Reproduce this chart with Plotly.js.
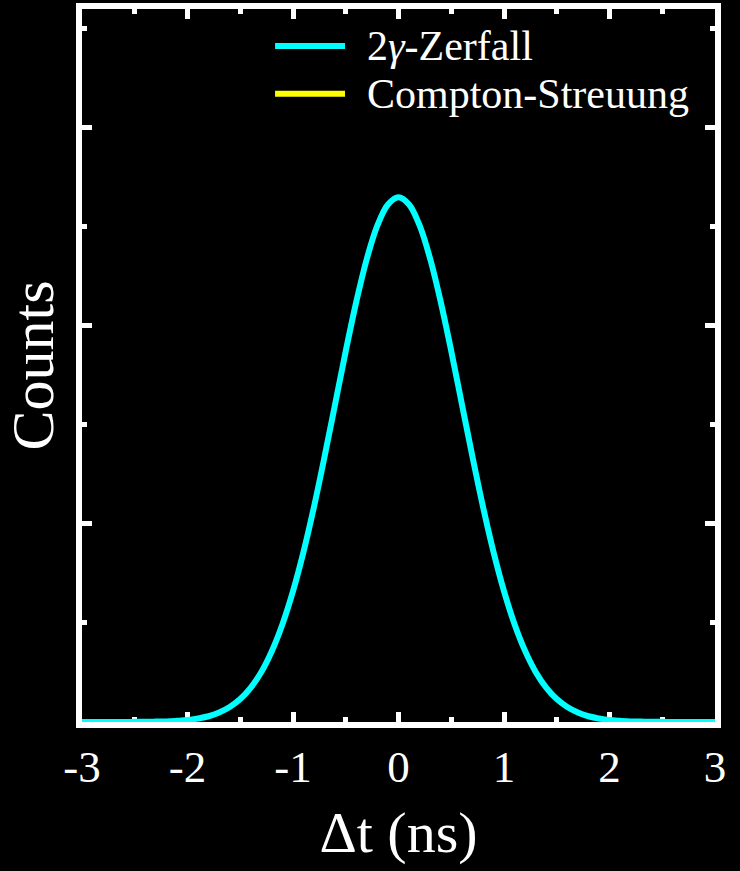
<!DOCTYPE html>
<html>
<head>
<meta charset="utf-8">
<script src="https://cdn.plot.ly/plotly-3.0.1.min.js"></script>
<style>
  html, body { margin: 0; padding: 0; background: #000; }
  #chart { width: 740px; height: 871px; }
</style>
</head>
<body>
<div id="chart"></div>
<script>
// Δt (ns) sample positions
const dt = [
  -3.0, -2.9, -2.8, -2.7, -2.6, -2.5, -2.4, -2.3, -2.2, -2.1,
  -2.0, -1.9, -1.8, -1.7, -1.6, -1.5, -1.4, -1.3, -1.2, -1.1,
  -1.0, -0.9, -0.8, -0.7, -0.6, -0.5, -0.4, -0.3, -0.2, -0.1,
   0.0,  0.1,  0.2,  0.3,  0.4,  0.5,  0.6,  0.7,  0.8,  0.9,
   1.0,  1.1,  1.2,  1.3,  1.4,  1.5,  1.6,  1.7,  1.8,  1.9,
   2.0,  2.1,  2.2,  2.3,  2.4,  2.5,  2.6,  2.7,  2.8,  2.9, 3.0
];
// 2γ-Zerfall counts (arbitrary units)
const zerfallCounts = [
  0.000, 0.000, 0.000, 0.000, 0.000, 0.001, 0.001, 0.002, 0.003, 0.006,
  0.010, 0.018, 0.029, 0.048, 0.076, 0.116, 0.174, 0.253, 0.359, 0.494,
  0.661, 0.860, 1.089, 1.342, 1.607, 1.873, 2.122, 2.339, 2.507, 2.613,
  2.650, 2.613, 2.507, 2.339, 2.122, 1.873, 1.607, 1.342, 1.089, 0.860,
  0.661, 0.494, 0.359, 0.253, 0.174, 0.116, 0.076, 0.048, 0.029, 0.018,
  0.010, 0.006, 0.003, 0.002, 0.001, 0.001, 0.000, 0.000, 0.000, 0.000, 0.000
];
// Compton-Streuung: no visible curve in the picture (legend entry only)
const comptonDt = [];
const comptonCounts = [];

const xTickVals = [-3, -2, -1, 0, 1, 2, 3];
const xTickLabels = ['-3', '-2', '-1', '0', '1', '2', '3'];
const seriesNames = ['2<i>γ</i>-Zerfall', 'Compton-Streuung'];
const seriesColors = ['#00FFFF', '#FFFF00'];

const FONT = 'Liberation Serif';

const traces = [
  {
    x: comptonDt, y: comptonCounts, type: 'scatter', mode: 'lines',
    name: seriesNames[1], line: { color: seriesColors[1], width: 6 },
    showlegend: false, hoverinfo: 'skip'
  },
  {
    x: dt, y: zerfallCounts, type: 'scatter', mode: 'lines',
    name: seriesNames[0], line: { color: seriesColors[0], width: 6, shape: 'spline', smoothing: 1 },
    showlegend: false, cliponaxis: false, hoverinfo: 'skip'
  }
];

const legX0 = 0.305, legX1 = 0.4155, legTextX = 0.447;
const legY = [0.948, 0.881];

const layout = {
  width: 740, height: 871,
  paper_bgcolor: '#000', plot_bgcolor: '#000',
  margin: { l: 82, r: 25, t: 9, b: 149 },
  showlegend: false,
  font: { family: FONT, color: '#fff' },
  xaxis: {
    range: [-3, 3],
    tickmode: 'array', tickvals: xTickVals, ticktext: xTickLabels,
    ticks: 'inside', ticklen: 10, tickwidth: 5, tickcolor: '#fff',
    minor: { dtick: 0.5, tick0: 0, ticks: 'inside', ticklen: 5, tickwidth: 5, tickcolor: '#fff', showgrid: false },
    showline: true, linecolor: '#fff', linewidth: 6, mirror: 'ticks',
    showgrid: false, zeroline: false,
    tickfont: { family: FONT, size: 45, color: '#fff' },
    ticklabelstandoff: 0,
    layer: 'below traces',
    title: { text: 'Δt (ns)', font: { family: FONT, size: 58, color: '#fff' }, standoff: 22 }
  },
  yaxis: {
    range: [0, 3.6],
    dtick: 1, tick0: 0,
    ticks: 'inside', ticklen: 10, tickwidth: 5, tickcolor: '#fff',
    minor: { dtick: 0.5, tick0: 0, ticks: 'inside', ticklen: 5, tickwidth: 5, tickcolor: '#fff', showgrid: false },
    showline: true, linecolor: '#fff', linewidth: 6, mirror: 'ticks',
    showgrid: false, zeroline: false, showticklabels: false,
    layer: 'below traces',
    title: { text: 'Counts', font: { family: FONT, size: 60, color: '#fff' }, standoff: 14 }
  },
  shapes: [
    { type: 'line', xref: 'paper', yref: 'paper', x0: legX0, x1: legX1, y0: legY[0], y1: legY[0],
      line: { color: seriesColors[0], width: 6 } },
    { type: 'line', xref: 'paper', yref: 'paper', x0: legX0, x1: legX1, y0: legY[1], y1: legY[1],
      line: { color: seriesColors[1], width: 6 } }
  ],
  annotations: [
    { xref: 'paper', yref: 'paper', x: legTextX, y: legY[0], xanchor: 'left', yanchor: 'middle',
      text: seriesNames[0], showarrow: false, font: { family: FONT, size: 42, color: '#fff' } },
    { xref: 'paper', yref: 'paper', x: legTextX, y: legY[1], xanchor: 'left', yanchor: 'middle',
      text: seriesNames[1], showarrow: false, font: { family: FONT, size: 42, color: '#fff' } }
  ]
};

Plotly.newPlot('chart', traces, layout, { staticPlot: true, displayModeBar: false });
</script>
</body>
</html>
